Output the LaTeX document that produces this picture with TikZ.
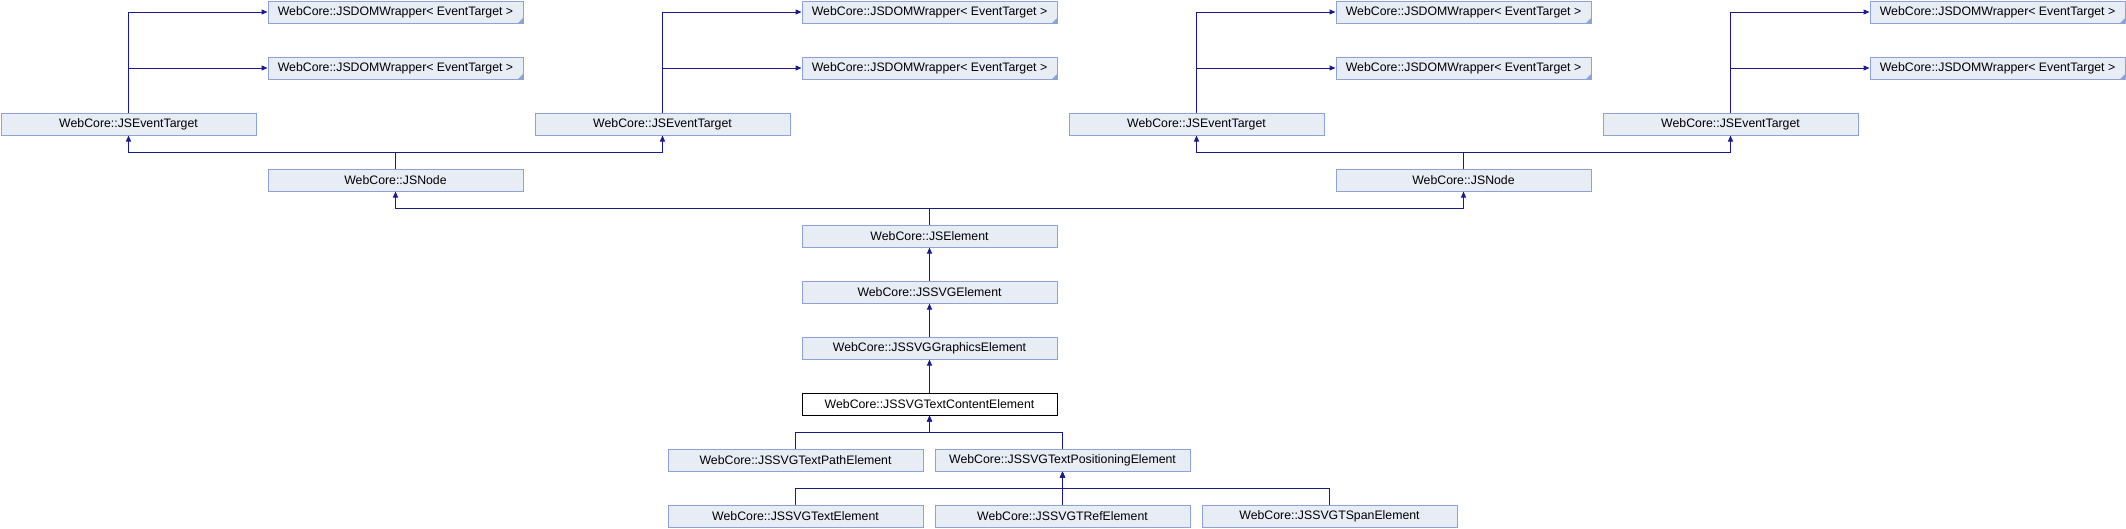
\documentclass[tikz,border=0pt]{standalone}
\usepackage{fontspec}
\setmainfont{Liberation Sans}
\usetikzlibrary{arrows.meta}
\definecolor{boxfill}{HTML}{E8ECF5}
\definecolor{boxline}{HTML}{8CA3D4}
\definecolor{edgecol}{HTML}{1A1A8E}
\begin{document}
\begin{tikzpicture}[x=1pt,y=-1pt,
  cls/.style={draw=boxline,fill=boxfill,line width=1pt,minimum width=255pt,minimum height=22pt,inner sep=0pt,font=\fontsize{12.3}{14}\selectfont},
  cur/.style={cls,draw=black,fill=white},
  inh/.style={draw=edgecol,line width=1pt,-{Triangle[width=5pt,length=6pt]}},
  corner/.style={fill=boxline}]
\useasboundingbox (0,0) rectangle (2126,528);
% DOMWrapper rows
\foreach \i/\cx in {1/395.5,2/929.5,3/1463.5,4/1997.5}{
  \node[cls] (dwa\i) at (\cx,12) {WebCore::JSDOMWrapper< EventTarget >};
  \node[cls] (dwb\i) at (\cx,68) {WebCore::JSDOMWrapper< EventTarget >};
  \fill[corner] (dwa\i.south east) -- ++(-6,0) -- ++(6,-6) -- cycle;
  \fill[corner] (dwb\i.south east) -- ++(-6,0) -- ++(6,-6) -- cycle;
}
% JSEventTarget
\foreach \i/\cx in {1/128.5,2/662.5,3/1196.5,4/1730.5}{
  \node[cls] (et\i) at (\cx,124) {WebCore::JSEventTarget};
  \draw[inh] (et\i.north) |- (dwa\i.west);
  \draw[inh] (et\i.north) |- (dwb\i.west);
}
% JSNode
\node[cls] (n1) at (395.5,180) {WebCore::JSNode};
\node[cls] (n2) at (1463.5,180) {WebCore::JSNode};
\coordinate (j1) at (395.5,152);
\coordinate (j2) at (1463.5,152);
\draw[inh] (n1.north) -- (j1) -| (et1.south);
\draw[inh] (n1.north) -- (j1) -| (et2.south);
\draw[inh] (n2.north) -- (j2) -| (et3.south);
\draw[inh] (n2.north) -- (j2) -| (et4.south);
% main chain
\node[cls] (el) at (929.5,236) {WebCore::JSElement};
\coordinate (j3) at (929.5,208);
\draw[inh] (el.north) -- (j3) -| (n1.south);
\draw[inh] (el.north) -- (j3) -| (n2.south);
\node[cls] (svg) at (929.5,292) {WebCore::JSSVGElement};
\draw[inh] (svg) -- (el);
\node[cls] (gr) at (929.5,348) {WebCore::JSSVGGraphicsElement};
\draw[inh] (gr) -- (svg);
\node[cur] (tc) at (929.5,404) {WebCore::JSSVGTextContentElement};
\draw[inh] (tc) -- (gr);
% children
\node[cls] (tp) at (795.5,460) {WebCore::JSSVGTextPathElement};
\node[cls] (tpos) at (1062.5,460) {WebCore::JSSVGTextPositioningElement};
\coordinate (j4) at (929.5,432);
\draw[inh] (tp.north) |- (j4) -- (tc.south);
\draw[inh] (tpos.north) |- (j4) -- (tc.south);
\node[cls] (te) at (795.5,516) {WebCore::JSSVGTextElement};
\node[cls] (tr) at (1062.5,516) {WebCore::JSSVGTRefElement};
\node[cls] (ts) at (1329.5,516) {WebCore::JSSVGTSpanElement};
\coordinate (j5) at (1062.5,488);
\draw[inh] (te.north) |- (j5) -- (tpos.south);
\draw[inh] (tr.north) -- (tpos.south);
\draw[inh] (ts.north) |- (j5) -- (tpos.south);
\end{tikzpicture}
\end{document}
